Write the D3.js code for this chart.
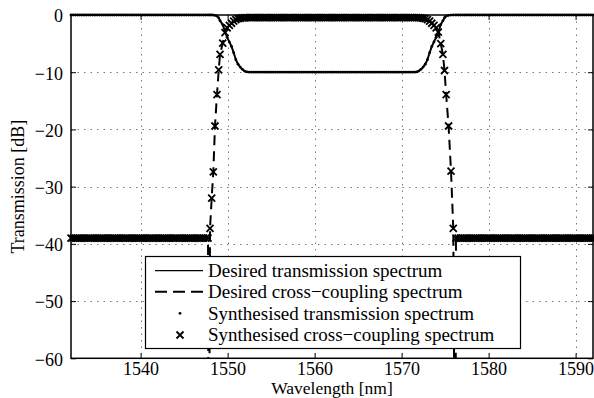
<!DOCTYPE html>
<html><head><meta charset="utf-8">
<script src="https://cdn.jsdelivr.net/npm/d3@7"></script>
<style>body{margin:0;background:#fff}svg{display:block}text{font-family:"Liberation Serif","Times New Roman",serif}</style>
</head><body>
<svg id="c" width="594" height="398"></svg>
<script>
const xTicks = [1540, 1550, 1560, 1570, 1580, 1590];
const yTicks = [0, -10, -20, -30, -40, -50, -60];
const legendLabels = ["Desired transmission spectrum", "Desired cross\u2212coupling spectrum",
  "Synthesised transmission spectrum", "Synthesised cross\u2212coupling spectrum"];

// Desired (continuous) spectra, dB
const desiredWavelength = [1532, 1547.75, 1547.82,
  1547.98,1548.17,1548.36,1548.55,1548.78,1548.98,1549.13,1549.44,1549.7,1549.95,1550.2,1550.45,1550.7,1550.95,1551.2,1551.45,1551.7,1551.95,1552.2,
  1571.72,1571.97,1572.22,1572.47,1572.72,1572.97,1573.22,1573.47,1573.72,1573.97,1574.22,1574.5,1574.75,1574.93,1575.12,1575.4,1575.68,1575.94,
  1576.18, 1576.25, 1592];
const desiredTransmission = [0, 0, 0,
  0,-0.003,-0.01,-0.05,-0.18,-0.49,-0.99,-1.7,-2.9,-3.9,-4.7,-5.5,-6.6,-7.8,-8.6,-9.1,-9.5,-9.8,-9.95,
  -9.95,-9.8,-9.5,-9.1,-8.6,-7.8,-6.6,-5.5,-4.7,-3.9,-3.02,-1.65,-0.99,-0.48,-0.18,-0.05,-0.01,0,
  0, 0, 0];
const desiredCross = [-39, -39, -100,
  -37.3,-32,-27.4,-19.4,-13.9,-9.6,-6.9,-4.9,-3.1,-2.27,-1.8,-1.44,-1.07,-0.79,-0.65,-0.57,-0.52,-0.48,-0.46,
  -0.46,-0.48,-0.52,-0.57,-0.65,-0.79,-1.07,-1.44,-1.8,-2.27,-3,-5,-6.9,-9.7,-13.9,-19.4,-27.3,-37.3,
  -100, -39, -39];

// Synthesised (sampled) spectra, dB
const synthWavelength = [
  1532,1532.25,1532.5,1532.75,1533,1533.25,1533.5,1533.75,1534,1534.25,1534.5,1534.75,1535,1535.25,1535.5,1535.75,
  1536,1536.25,1536.5,1536.75,1537,1537.25,1537.5,1537.75,1538,1538.25,1538.5,1538.75,1539,1539.25,1539.5,1539.75,
  1540,1540.25,1540.5,1540.75,1541,1541.25,1541.5,1541.75,1542,1542.25,1542.5,1542.75,1543,1543.25,1543.5,1543.75,
  1544,1544.25,1544.5,1544.75,1545,1545.25,1545.5,1545.75,1546,1546.25,1546.5,1546.75,1547,1547.25,1547.5,1547.75,
  1547.98,1548.17,1548.36,1548.55,1548.78,1548.98,1549.13,1549.44,1549.7,1549.95,1550.2,1550.45,1550.7,1550.95,1551.2,1551.45,1551.7,1551.95,1552.2,
  1552.5,1552.75,1553,1553.25,1553.5,1553.75,1554,1554.25,1554.5,1554.75,1555,
  1555.25,1555.5,1555.75,1556,1556.25,1556.5,1556.75,1557,1557.25,1557.5,1557.75,
  1558,1558.25,1558.5,1558.75,1559,1559.25,1559.5,1559.75,1560,1560.25,1560.5,
  1560.75,1561,1561.25,1561.5,1561.75,1562,1562.25,1562.5,1562.75,1563,1563.25,
  1563.5,1563.75,1564,1564.25,1564.5,1564.75,1565,1565.25,1565.5,1565.75,1566,
  1566.25,1566.5,1566.75,1567,1567.25,1567.5,1567.75,1568,1568.25,1568.5,1568.75,
  1569,1569.25,1569.5,1569.75,1570,1570.25,1570.5,1570.75,1571,1571.25,1571.5,
  1571.72,1571.97,1572.22,1572.47,1572.72,1572.97,1573.22,1573.47,1573.72,1573.97,1574.22,1574.5,1574.75,1574.93,1575.12,1575.4,1575.68,1575.94,
  1576.25,1576.5,1576.75,1577,1577.25,1577.5,1577.75,1578,1578.25,1578.5,1578.75,1579,1579.25,1579.5,1579.75,1580,
  1580.25,1580.5,1580.75,1581,1581.25,1581.5,1581.75,1582,1582.25,1582.5,1582.75,1583,1583.25,1583.5,1583.75,1584,
  1584.25,1584.5,1584.75,1585,1585.25,1585.5,1585.75,1586,1586.25,1586.5,1586.75,1587,1587.25,1587.5,1587.75,1588,
  1588.25,1588.5,1588.75,1589,1589.25,1589.5,1589.75,1590,1590.25,1590.5,1590.75,1591,1591.25,1591.5,1591.75,1592];
const synthTransmission = [
  0,0,0,0,0,0,0,0,0,0,0,0,0,0,0,0,
  0,0,0,0,0,0,0,0,0,0,0,0,0,0,0,0,
  0,0,0,0,0,0,0,0,0,0,0,0,0,0,0,0,
  0,0,0,0,0,0,0,0,0,0,0,0,0,0,0,0,
  0,-0.003,-0.01,-0.05,-0.18,-0.49,-0.99,-1.7,-2.9,-3.9,-4.7,-5.5,-6.6,-7.8,-8.6,-9.1,-9.5,-9.8,-9.95,
  -10,-10,-10,-10,-10,-10,-10,-10,-10,-10,-10,
  -10,-10,-10,-10,-10,-10,-10,-10,-10,-10,-10,
  -10,-10,-10,-10,-10,-10,-10,-10,-10,-10,-10,
  -10,-10,-10,-10,-10,-10,-10,-10,-10,-10,-10,
  -10,-10,-10,-10,-10,-10,-10,-10,-10,-10,-10,
  -10,-10,-10,-10,-10,-10,-10,-10,-10,-10,-10,
  -10,-10,-10,-10,-10,-10,-10,-10,-10,-10,-10,
  -9.95,-9.8,-9.5,-9.1,-8.6,-7.8,-6.6,-5.5,-4.7,-3.9,-3.02,-1.65,-0.99,-0.48,-0.18,-0.05,-0.01,0,
  0,0,0,0,0,0,0,0,0,0,0,0,0,0,0,0,
  0,0,0,0,0,0,0,0,0,0,0,0,0,0,0,0,
  0,0,0,0,0,0,0,0,0,0,0,0,0,0,0,0,
  0,0,0,0,0,0,0,0,0,0,0,0,0,0,0,0];
const synthCross = [
  -39,-39,-39,-39,-39,-39,-39,-39,-39,-39,-39,-39,-39,-39,-39,-39,
  -39,-39,-39,-39,-39,-39,-39,-39,-39,-39,-39,-39,-39,-39,-39,-39,
  -39,-39,-39,-39,-39,-39,-39,-39,-39,-39,-39,-39,-39,-39,-39,-39,
  -39,-39,-39,-39,-39,-39,-39,-39,-39,-39,-39,-39,-39,-39,-39,-39,
  -37.3,-32,-27.4,-19.4,-13.9,-9.6,-6.9,-4.9,-3.1,-2.27,-1.8,-1.44,-1.07,-0.79,-0.65,-0.57,-0.52,-0.48,-0.46,
  -0.46,-0.46,-0.46,-0.46,-0.46,-0.46,-0.46,-0.46,-0.46,-0.46,-0.46,
  -0.46,-0.46,-0.46,-0.46,-0.46,-0.46,-0.46,-0.46,-0.46,-0.46,-0.46,
  -0.46,-0.46,-0.46,-0.46,-0.46,-0.46,-0.46,-0.46,-0.46,-0.46,-0.46,
  -0.46,-0.46,-0.46,-0.46,-0.46,-0.46,-0.46,-0.46,-0.46,-0.46,-0.46,
  -0.46,-0.46,-0.46,-0.46,-0.46,-0.46,-0.46,-0.46,-0.46,-0.46,-0.46,
  -0.46,-0.46,-0.46,-0.46,-0.46,-0.46,-0.46,-0.46,-0.46,-0.46,-0.46,
  -0.46,-0.46,-0.46,-0.46,-0.46,-0.46,-0.46,-0.46,-0.46,-0.46,-0.46,
  -0.46,-0.48,-0.52,-0.57,-0.65,-0.79,-1.07,-1.44,-1.8,-2.27,-3,-5,-6.9,-9.7,-13.9,-19.4,-27.3,-37.3,
  -39,-39,-39,-39,-39,-39,-39,-39,-39,-39,-39,-39,-39,-39,-39,-39,
  -39,-39,-39,-39,-39,-39,-39,-39,-39,-39,-39,-39,-39,-39,-39,-39,
  -39,-39,-39,-39,-39,-39,-39,-39,-39,-39,-39,-39,-39,-39,-39,-39,
  -39,-39,-39,-39,-39,-39,-39,-39,-39,-39,-39,-39,-39,-39,-39,-39];

const svg = d3.select("#c");
const L = 71, R = 593, T = 15, B = 358.3;
const x = d3.scaleLinear().domain([1532, 1592]).range([L, R]);
const y = d3.scaleLinear().domain([-60, 0]).range([B, T]);
const FS = 18;

svg.append("defs").append("clipPath").attr("id", "pc")
  .append("rect").attr("x", L).attr("y", T).attr("width", R - L).attr("height", B - T);

// grid
const grid = svg.append("g").attr("stroke", "#777").attr("stroke-width", 1).attr("stroke-dasharray", "1.5,5");
grid.selectAll("line.v").data(xTicks).join("line")
  .attr("x1", d => Math.round(x(d)) + 0.5).attr("x2", d => Math.round(x(d)) + 0.5).attr("y1", T).attr("y2", B);
grid.selectAll("line.h").data(yTicks.filter(d => d !== 0 && d !== -60)).join("line")
  .attr("y1", d => Math.round(y(d)) + 0.5).attr("y2", d => Math.round(y(d)) + 0.5).attr("x1", L).attr("x2", R);

// axes with inner ticks, box
const axB = d3.axisBottom(x).tickValues(xTicks).tickSize(-5).tickPadding(10).tickFormat(d3.format("d"));
const axL = d3.axisLeft(y).tickValues(yTicks).tickSize(-5).tickPadding(8).tickFormat(d => d < 0 ? "\u2212" + Math.abs(d) : String(d));
const axT = d3.axisTop(x).tickValues(xTicks).tickSize(-5).tickFormat("");
const axR = d3.axisRight(y).tickValues(yTicks).tickSize(-5).tickFormat("");
function style(g){ g.select(".domain").remove(); g.selectAll("line").attr("stroke","#000");
  g.selectAll("text").attr("fill","#000").style("font-size", FS + "px").style("font-family", '"Liberation Serif", serif'); }
svg.append("g").attr("transform", `translate(0,${B})`).call(axB).call(style).selectAll("text").attr("dy", "0.36em");
svg.append("g").attr("transform", `translate(${L},0)`).call(axL).call(style).selectAll("text").attr("dy", "0.38em");
svg.append("g").attr("transform", `translate(0,${T})`).call(axT).call(style);
svg.append("g").attr("transform", `translate(${R},0)`).call(axR).call(style);

// data
const plot = svg.append("g").attr("clip-path", "url(#pc)");
const line = (ys) => d3.line().x((d, i) => x(desiredWavelength[i])).y((d, i) => y(ys[i]))(desiredWavelength);
plot.append("path").attr("d", line(desiredTransmission)).attr("fill", "none").attr("stroke", "#000").attr("stroke-width", 2);
plot.append("path").attr("d", line(desiredCross)).attr("fill", "none").attr("stroke", "#000").attr("stroke-width", 2).attr("stroke-dasharray", "10,6");

const n = Math.min(synthWavelength.length, synthTransmission.length, synthCross.length);
const idx = d3.range(n);
svg.append("g").selectAll("circle").data(idx).join("circle")
  .attr("cx", i => x(synthWavelength[i])).attr("cy", i => y(synthTransmission[i])).attr("r", 1.4).attr("fill", "#000");
const cross = "M-3.5,-3.5L3.5,3.5M-3.5,3.5L3.5,-3.5";
svg.append("g").selectAll("path").data(idx).join("path")
  .attr("transform", i => `translate(${x(synthWavelength[i])},${y(synthCross[i])})`)
  .attr("d", cross).attr("stroke", "#000").attr("stroke-width", 1.8).attr("fill", "none");

// box
svg.append("rect").attr("x", L).attr("y", T).attr("width", R - L).attr("height", B - T)
  .attr("fill", "none").attr("stroke", "#000").attr("stroke-width", 1.5);

// legend
const lg = svg.append("g");
lg.append("rect").attr("x", 145.5).attr("y", 256.5).attr("width", 375).attr("height", 92)
  .attr("fill", "#fff").attr("stroke", "#000").attr("stroke-width", 1.2);
const rowsY = [270.7, 291.7, 313.3, 335];
lg.append("line").attr("x1", 155).attr("x2", 203).attr("y1", rowsY[0]).attr("y2", rowsY[0]).attr("stroke", "#000").attr("stroke-width", 1.2);
lg.append("line").attr("x1", 155).attr("x2", 203).attr("y1", rowsY[1]).attr("y2", rowsY[1]).attr("stroke", "#000").attr("stroke-width", 2).attr("stroke-dasharray", "12,6");
lg.append("circle").attr("cx", 180).attr("cy", rowsY[2]).attr("r", 1.4).attr("fill", "#000");
lg.append("path").attr("transform", `translate(180,${rowsY[3]})`).attr("d", cross).attr("stroke", "#000").attr("stroke-width", 1.8);
lg.selectAll("text").data(legendLabels).join("text")
  .attr("x", 208).attr("y", (d, i) => rowsY[i]).attr("dy", "0.33em")
  .style("font-size", "19px").text(d => d);

// axis labels
svg.append("text").attr("x", (L + R) / 2).attr("y", 394).attr("text-anchor", "middle")
  .style("font-size", "17.5px").text("Wavelength [nm]");
svg.append("text").attr("transform", `translate(24,${(T + B) / 2}) rotate(-90)`).attr("text-anchor", "middle")
  .style("font-size", FS + "px").text("Transmission [dB]");
</script>
</body></html>
